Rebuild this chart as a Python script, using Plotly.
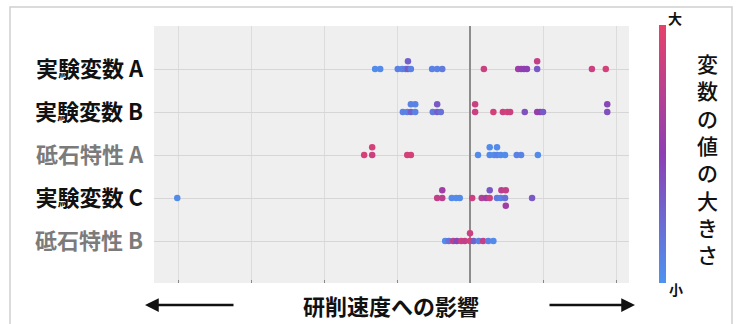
import plotly.graph_objects as go

# ---------------- data (SHAP-like impact values, feature value 0=small 1=large)
features = ["実験変数 A", "実験変数 B", "砥石特性 A", "実験変数 C", "砥石特性 B"]
feature_kind = ["exp", "exp", "wheel", "exp", "wheel"]

impact_A = [-1.30, -1.23, -0.99, -0.93, -0.88, -0.85, -0.85, -0.81, -0.52, -0.45, -0.38,
            0.19, 0.66, 0.70, 0.74, 0.78, 0.92, 0.92, 1.67, 1.86]
value_A = [0.05, 0.05, 0.1, 0.1, 0.15, 0.35, 0.3, 0.1, 0.1, 0.1, 0.15,
           0.85, 0.6, 0.55, 0.5, 0.5, 0.35, 0.8, 0.85, 0.9]

impact_B = [-0.92, -0.86, -0.81, -0.81, -0.75, -0.75, -0.51, -0.45, -0.45, -0.40,
            0.07, 0.07, 0.32, 0.45, 0.51, 0.55, 0.75, 0.92, 0.96, 1.00, 1.88, 1.88]
value_B = [0.1, 0.1, 0.3, 0.1, 0.1, 0.1, 0.15, 0.3, 0.35, 0.2,
           0.85, 0.85, 0.9, 0.85, 0.9, 0.85, 0.4, 0.55, 0.5, 0.35, 0.4, 0.45]

impact_WA = [-1.45, -1.34, -1.34, -0.86, -0.81, 0.11, 0.27, 0.27, 0.33, 0.37, 0.37,
             0.42, 0.48, 0.64, 0.70, 0.93]
value_WA = [0.9, 0.85, 0.9, 0.9, 0.9, 0.05, 0.05, 0.05, 0.05, 0.1, 0.05,
            0.05, 0.05, 0.1, 0.1, 0.05]

impact_C = [-4.01, -0.45, -0.38, -0.38, -0.25, -0.19, -0.14, 0.03, 0.16, 0.22, 0.27, 0.27,
            0.37, 0.42, 0.43, 0.48, 0.49, 0.49, 0.85]
value_C = [0.05, 0.8, 0.75, 0.6, 0.05, 0.05, 0.05, 0.85, 0.7, 0.6, 0.85, 0.35,
           0.15, 0.1, 0.75, 0.2, 0.8, 0.6, 0.35]

impact_WB = [-0.34, -0.29, -0.23, -0.18, -0.12, -0.07, 0.00, 0.00, 0.05, 0.12, 0.18, 0.25, 0.32]
value_WB = [0.05, 0.2, 0.75, 0.45, 0.85, 0.8, 0.9, 0.85, 0.3, 0.1, 0.8, 0.1, 0.05]

impacts = [impact_A, impact_B, impact_WA, impact_C, impact_WB]
values = [value_A, value_B, value_WA, value_C, value_WB]

# ---------------- layout helpers
W, H = 740, 324
PL, PR, PT, PB = 154, 629, 26, 283


def px(x):
    return (x - PL) / (PR - PL)


def py(y):
    return (PB - y) / (PB - PT)


def swarm(xs, thr=0.025):
    order = [0, 1, -1, 2, -2, 3, -3]
    placed = {}
    lanes = []
    for x in xs:
        for l in order:
            if all(abs(x - p) >= thr for p in placed.get(l, [])):
                placed.setdefault(l, []).append(x)
                lanes.append(l)
                break
    return lanes


STEP = 0.18
xs, ys, cs = [], [], []
for i, (imp, val) in enumerate(zip(impacts, values)):
    lanes = swarm(imp)
    for x, l, v in zip(imp, lanes, val):
        xs.append(x)
        ys.append(i - l * STEP)
        cs.append(v)

colorscale = [[0.0, "#4d93f0"], [0.5, "#8d3fb3"], [1.0, "#e6416b"]]

fig = go.Figure()
fig.add_trace(go.Scatter(
    x=xs, y=ys, mode="markers",
    marker=dict(size=6.5, color=cs, cmin=0, cmax=1, colorscale=colorscale,
                line=dict(width=0),
                colorbar=dict(thickness=7, lenmode="pixels", len=258,
                              x=px(659), xanchor="left", y=py(154), yanchor="middle",
                              outlinewidth=0, showticklabels=False, ticks="",
                              xpad=0, ypad=0)),
    showlegend=False, hoverinfo="skip"))

ticktext = []
for f, k in zip(features, feature_kind):
    if k == "exp":
        ticktext.append(f"<b>{f}</b>")
    else:
        ticktext.append(f"<span style='color:#7b7b7b'><b>{f}</b></span>")

FONT = "Noto Sans CJK JP"
fig.update_layout(
    width=W, height=H,
    margin=dict(l=PL, r=W - PR, t=PT, b=H - PB, pad=0),
    paper_bgcolor="white", plot_bgcolor="#efefef",
    font=dict(family=FONT, color="#111111"),
    xaxis=dict(range=[(PL - 470) / 73, (PR - 470) / 73], dtick=1, tick0=0,
               showgrid=True, gridcolor="#dcdcdc", gridwidth=1,
               zeroline=True, zerolinecolor="#8c8c8c", zerolinewidth=2,
               showticklabels=False, ticks="inside", ticklen=3, tickcolor="#888888",
               showline=False, layer="below traces", fixedrange=True),
    yaxis=dict(range=[(PB - 69) / 43, (PT - 69) / 43],
               tickvals=list(range(len(features))), ticktext=ticktext,
               tickfont=dict(family=FONT, size=22, color="#111111"),
               showgrid=True, gridcolor="#d6d6d6", gridwidth=1,
               zeroline=False, ticks="", ticklabelstandoff=10,
               showline=False, layer="below traces", fixedrange=True),
)

# outer frame
fig.add_shape(type="rect", xref="paper", yref="paper",
              x0=px(10), x1=px(732), y0=py(340), y1=py(7),
              line=dict(color="#d0d0d0", width=1.5), fillcolor="rgba(0,0,0,0)",
              layer="below")

# x title and arrows
fig.add_annotation(xref="paper", yref="paper", x=px(391), y=py(305),
                   text="<b>研削速度への影響</b>", showarrow=False,
                   font=dict(family=FONT, size=22, color="#111111"),
                   xanchor="center", yanchor="middle")
fig.add_annotation(xref="paper", yref="paper", x=px(145), y=py(305), ax=90, ay=0,
                   text="", showarrow=True, arrowhead=2, arrowsize=1.1,
                   arrowwidth=2.5, arrowcolor="#111111", standoff=0, startstandoff=0)
fig.add_annotation(xref="paper", yref="paper", x=px(635), y=py(305), ax=-87, ay=0,
                   text="", showarrow=True, arrowhead=2, arrowsize=1.1,
                   arrowwidth=2.5, arrowcolor="#111111", standoff=0, startstandoff=0)

# colorbar labels
fig.add_annotation(xref="paper", yref="paper", x=px(675), y=py(18), text="<b>大</b>",
                   showarrow=False, font=dict(family=FONT, size=14, color="#111111"),
                   xanchor="center", yanchor="middle")
fig.add_annotation(xref="paper", yref="paper", x=px(676), y=py(289), text="<b>小</b>",
                   showarrow=False, font=dict(family=FONT, size=14, color="#111111"),
                   xanchor="center", yanchor="middle")
fig.add_annotation(xref="paper", yref="paper", x=px(707), y=py(158),
                   text="<br>".join(list("変数の値の大きさ")),
                   showarrow=False,
                   font=dict(family=FONT, size=21, color="#111111", weight=500),
                   xanchor="center", yanchor="middle")

fig.write_html("out.html")
